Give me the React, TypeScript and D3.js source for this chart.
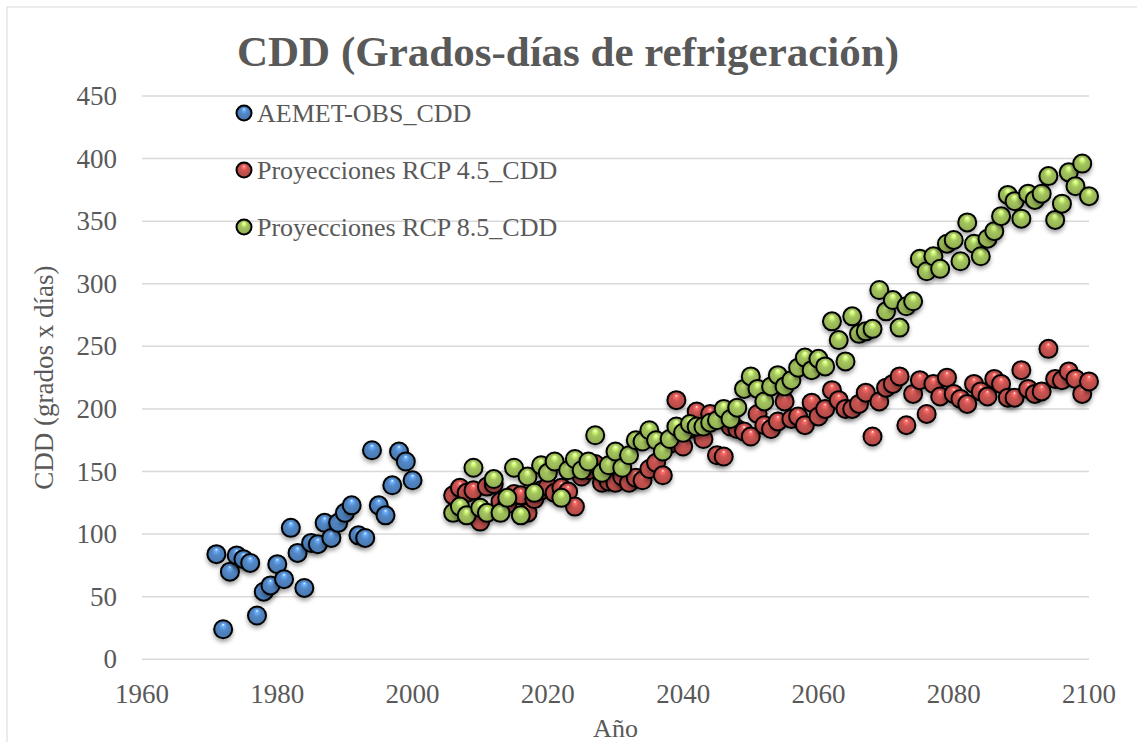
import React, { useRef, useEffect } from 'react';
import * as d3 from 'd3';

// observed (AEMET) 1971-2000
const obsYears = d3.range(1971, 2001);
const obsValues = [84, 24, 70, 83, 80, 77, 35, 54, 59, 76, 64, 105, 85, 57, 93, 92, 109, 97, 109, 117,
  123, 99, 97, 167, 123, 115, 139, 166, 158, 143];

// projections 2006-2100
const projYears = d3.range(2006, 2101);
const rcp45Values = [131, 137, 133, 135, 110, 138, 140, 126, 124, 132,
  131, 117, 128, 135, 138, 133, 137, 134, 122, 146,
  151, 156, 141, 142, 141, 146, 141, 145, 143, 152,
  157, 147, 172, 207, 170, 184, 198, 176, 196, 163,
  162, 186, 184, 182, 178, 196, 187, 184, 190, 206,
  192, 194, 187, 205, 194, 200, 215, 207, 200, 200,
  204, 213, 178, 206, 217, 220, 226, 187, 212, 223,
  196, 220, 210, 225, 212, 208, 204, 220, 214, 210,
  224, 220, 209, 209, 231, 216, 212, 214, 248, 224,
  223, 230, 224, 212, 222];
const rcp85Values = [117, 122, 115, 153, 121, 117, 144, 117, 129, 153,
  115, 146, 133, 155, 149, 158, 129, 151, 160, 151,
  158, 179, 149, 155, 166, 153, 163, 175, 174, 183,
  175, 166, 176, 186, 181, 188, 186, 186, 189, 191,
  200, 192, 201, 216, 226, 216, 206, 218, 227, 218,
  223, 233, 241, 231, 240, 234, 270, 255, 238, 274,
  260, 262, 264, 295, 278, 287, 265, 282, 286, 320,
  310, 322, 312, 332, 335, 318, 349, 332, 322, 336,
  342, 354, 371, 366, 352, 372, 367, 372, 386, 351,
  364, 389, 378, 396, 370];

const seriesNames = ['AEMET-OBS_CDD', 'Proyecciones RCP 4.5_CDD', 'Proyecciones RCP 8.5_CDD'];
const seriesColors = ['#4f81bd', '#c0504d', '#9bbb59'];
const xTicks = d3.range(1960, 2101, 20);
const yTicks = d3.range(0, 451, 50);

const W = 1137;
const H = 742;
const FONT = '"Liberation Serif", serif';
const TXT = '#595959';

const App = () => {
  const svgRef = useRef(null);

  useEffect(() => {
    const svg = d3.select(svgRef.current);
    svg.selectAll('*').remove();

    const x = d3.scaleLinear().domain([1960, 2100]).range([142, 1089]);
    const y = d3.scaleLinear().domain([0, 450]).range([659.3, 96]);

    const defs = svg.append('defs');
    seriesColors.forEach((c, i) => {
      const base = d3.color(c);
      const g = defs.append('radialGradient')
        .attr('id', 'ball' + i)
        .attr('cx', '50%').attr('cy', '55%').attr('r', '55%')
        .attr('fx', '50%').attr('fy', '22%');
      g.append('stop').attr('offset', '0%').attr('stop-color', '#ffffff');
      g.append('stop').attr('offset', '14%').attr('stop-color', base.brighter(0.9));
      g.append('stop').attr('offset', '40%').attr('stop-color', base.brighter(0.15));
      g.append('stop').attr('offset', '80%').attr('stop-color', base.darker(0.15));
      g.append('stop').attr('offset', '100%').attr('stop-color', base.brighter(0.6));
    });
    const f = defs.append('filter').attr('id', 'shadow')
      .attr('x', '-50%').attr('y', '-50%').attr('width', '200%').attr('height', '200%');
    f.append('feDropShadow').attr('dx', 0).attr('dy', 3).attr('stdDeviation', 2)
      .attr('flood-color', '#000').attr('flood-opacity', 0.35);

    svg.append('rect')
      .attr('x', 7).attr('y', 7).attr('width', W + 20).attr('height', H + 20)
      .attr('fill', '#fff').attr('stroke', '#d9d9d9');

    // gridlines
    svg.append('g').selectAll('line')
      .data(yTicks)
      .enter().append('line')
      .attr('x1', x(1960)).attr('x2', x(2100))
      .attr('y1', d => y(d)).attr('y2', d => y(d))
      .attr('stroke', '#d9d9d9').attr('stroke-width', 1.5);

    // tick labels
    svg.append('g').selectAll('text')
      .data(yTicks)
      .enter().append('text')
      .attr('x', 117).attr('y', d => y(d) + 9)
      .attr('text-anchor', 'end')
      .attr('font-family', FONT).attr('font-size', 27).attr('fill', TXT)
      .text(d => d);

    svg.append('g').selectAll('text')
      .data(xTicks)
      .enter().append('text')
      .attr('x', d => x(d)).attr('y', 703)
      .attr('text-anchor', 'middle')
      .attr('font-family', FONT).attr('font-size', 27).attr('fill', TXT)
      .text(d => d);

    svg.append('text')
      .attr('x', (x(1960) + x(2100)) / 2).attr('y', 737)
      .attr('text-anchor', 'middle')
      .attr('font-family', FONT).attr('font-size', 26).attr('fill', TXT)
      .text('Año');

    svg.append('text')
      .attr('transform', `translate(53,${(y(0) + y(450)) / 2}) rotate(-90)`)
      .attr('text-anchor', 'middle')
      .attr('font-family', FONT).attr('font-size', 27).attr('fill', TXT)
      .text('CDD (grados x días)');

    svg.append('text')
      .attr('x', 568).attr('y', 66)
      .attr('text-anchor', 'middle')
      .attr('font-family', FONT).attr('font-size', 43).attr('font-weight', 'bold').attr('fill', TXT)
      .text('CDD (Grados-días de refrigeración)');

    const series = [
      { years: obsYears, values: obsValues },
      { years: projYears, values: rcp45Values },
      { years: projYears, values: rcp85Values },
    ];

    series.forEach((s, i) => {
      svg.append('g')
        .selectAll('circle')
        .data(s.values)
        .enter().append('circle')
        .attr('cx', (d, j) => x(s.years[j]))
        .attr('cy', d => y(d))
        .attr('r', 9)
        .attr('fill', `url(#ball${i})`)
        .attr('stroke', '#000').attr('stroke-width', 2)
        .attr('filter', 'url(#shadow)');
    });

    // legend
    const lg = svg.append('g');
    seriesNames.forEach((name, i) => {
      const cy = 113 + i * 57;
      lg.append('circle')
        .attr('cx', 244).attr('cy', cy).attr('r', 7.5)
        .attr('fill', `url(#ball${i})`)
        .attr('stroke', '#000').attr('stroke-width', 2);
      lg.append('text')
        .attr('x', 257).attr('y', cy + 9)
        .attr('font-family', FONT).attr('font-size', 26).attr('fill', TXT)
        .text(name);
    });
  }, []);

  return (
    <svg ref={svgRef} width={W} height={H}
      style={{ position: 'absolute', left: 0, top: 0, background: '#fff' }} />
  );
};

export default App;
